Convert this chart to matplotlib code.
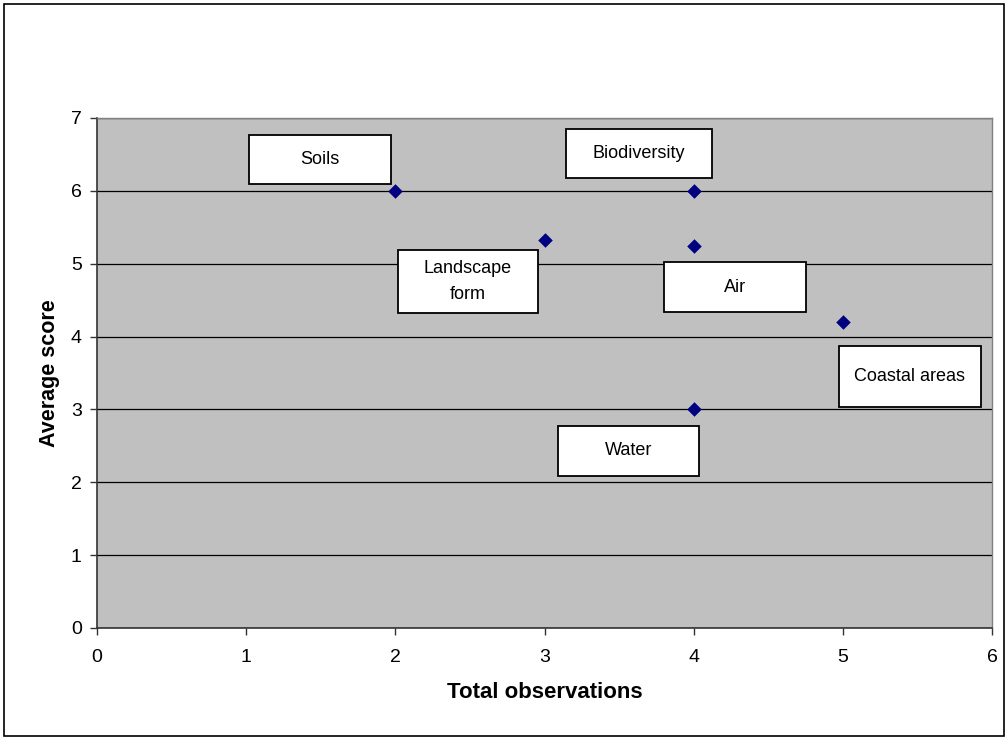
import matplotlib
matplotlib.use("Agg")
import matplotlib.pyplot as plt
from matplotlib.patches import Rectangle

plt.rcParams['font.family'] = ['Liberation Sans', 'DejaVu Sans']

# Observations per theme and their average score
themes = ["Soils", "Landscape form", "Biodiversity", "Air", "Water", "Coastal areas"]
total_obs = [2, 3, 4, 4, 4, 5]
avg_score = [6.0, 5.33, 6.0, 5.25, 3.0, 4.2]

# Label box layout (centre x, centre y, width, height) in data units
box_layout = {
    "Soils": (1.495, 6.43, 0.95, 0.67, "Soils"),
    "Biodiversity": (3.633, 6.51, 0.98, 0.67, "Biodiversity"),
    "Landscape form": (2.487, 4.756, 0.94, 0.865, "Landscape\nform"),
    "Air": (4.277, 4.68, 0.95, 0.69, "Air"),
    "Coastal areas": (5.45, 3.452, 0.95, 0.84, "Coastal areas"),
    "Water": (3.563, 2.43, 0.945, 0.69, "Water"),
}

fig = plt.figure(figsize=(10.08, 7.40), dpi=100)
fig.patches.append(Rectangle((4 / 1008, 4 / 740), 1 - 8 / 1008, 1 - 8 / 740,
                             transform=fig.transFigure, fill=False,
                             edgecolor='black', linewidth=1.2))

ax = fig.add_axes([97 / 1008, 112 / 740, 895 / 1008, 510 / 740])
ax.set_facecolor('#c0c0c0')
ax.set_xlim(0, 6)
ax.set_ylim(0, 7)
ax.set_xticks(range(0, 7))
ax.set_yticks(range(0, 8))
ax.yaxis.grid(True, color='black', linewidth=0.9)
ax.set_axisbelow(True)

for side in ['top', 'right']:
    ax.spines[side].set_color('#808080')
    ax.spines[side].set_linewidth(1.0)
for side in ['left', 'bottom']:
    ax.spines[side].set_color('#333333')
    ax.spines[side].set_linewidth(1.2)

ax.tick_params(axis='both', direction='out', length=5, width=1.0,
               labelsize=14, color='#333333')
ax.tick_params(axis='x', pad=10)
ax.tick_params(axis='y', pad=6)

ax.scatter(total_obs, avg_score, marker='D', s=55, color='#000080', zorder=3,
           linewidths=0)

for name in themes:
    cx, cy, w, h, label = box_layout[name]
    ax.add_patch(Rectangle((cx - w / 2, cy - h / 2), w, h, facecolor='white',
                           edgecolor='black', linewidth=1.3, zorder=4))
    ax.text(cx, cy, label, ha='center', va='center', fontsize=13, zorder=5,
            linespacing=1.65)

ax.set_xlabel("Total observations", fontsize=16, fontweight='bold', labelpad=12)
ax.set_ylabel("Average score", fontsize=15.5, fontweight='bold', labelpad=8)

fig.savefig("out.png", dpi=100)
